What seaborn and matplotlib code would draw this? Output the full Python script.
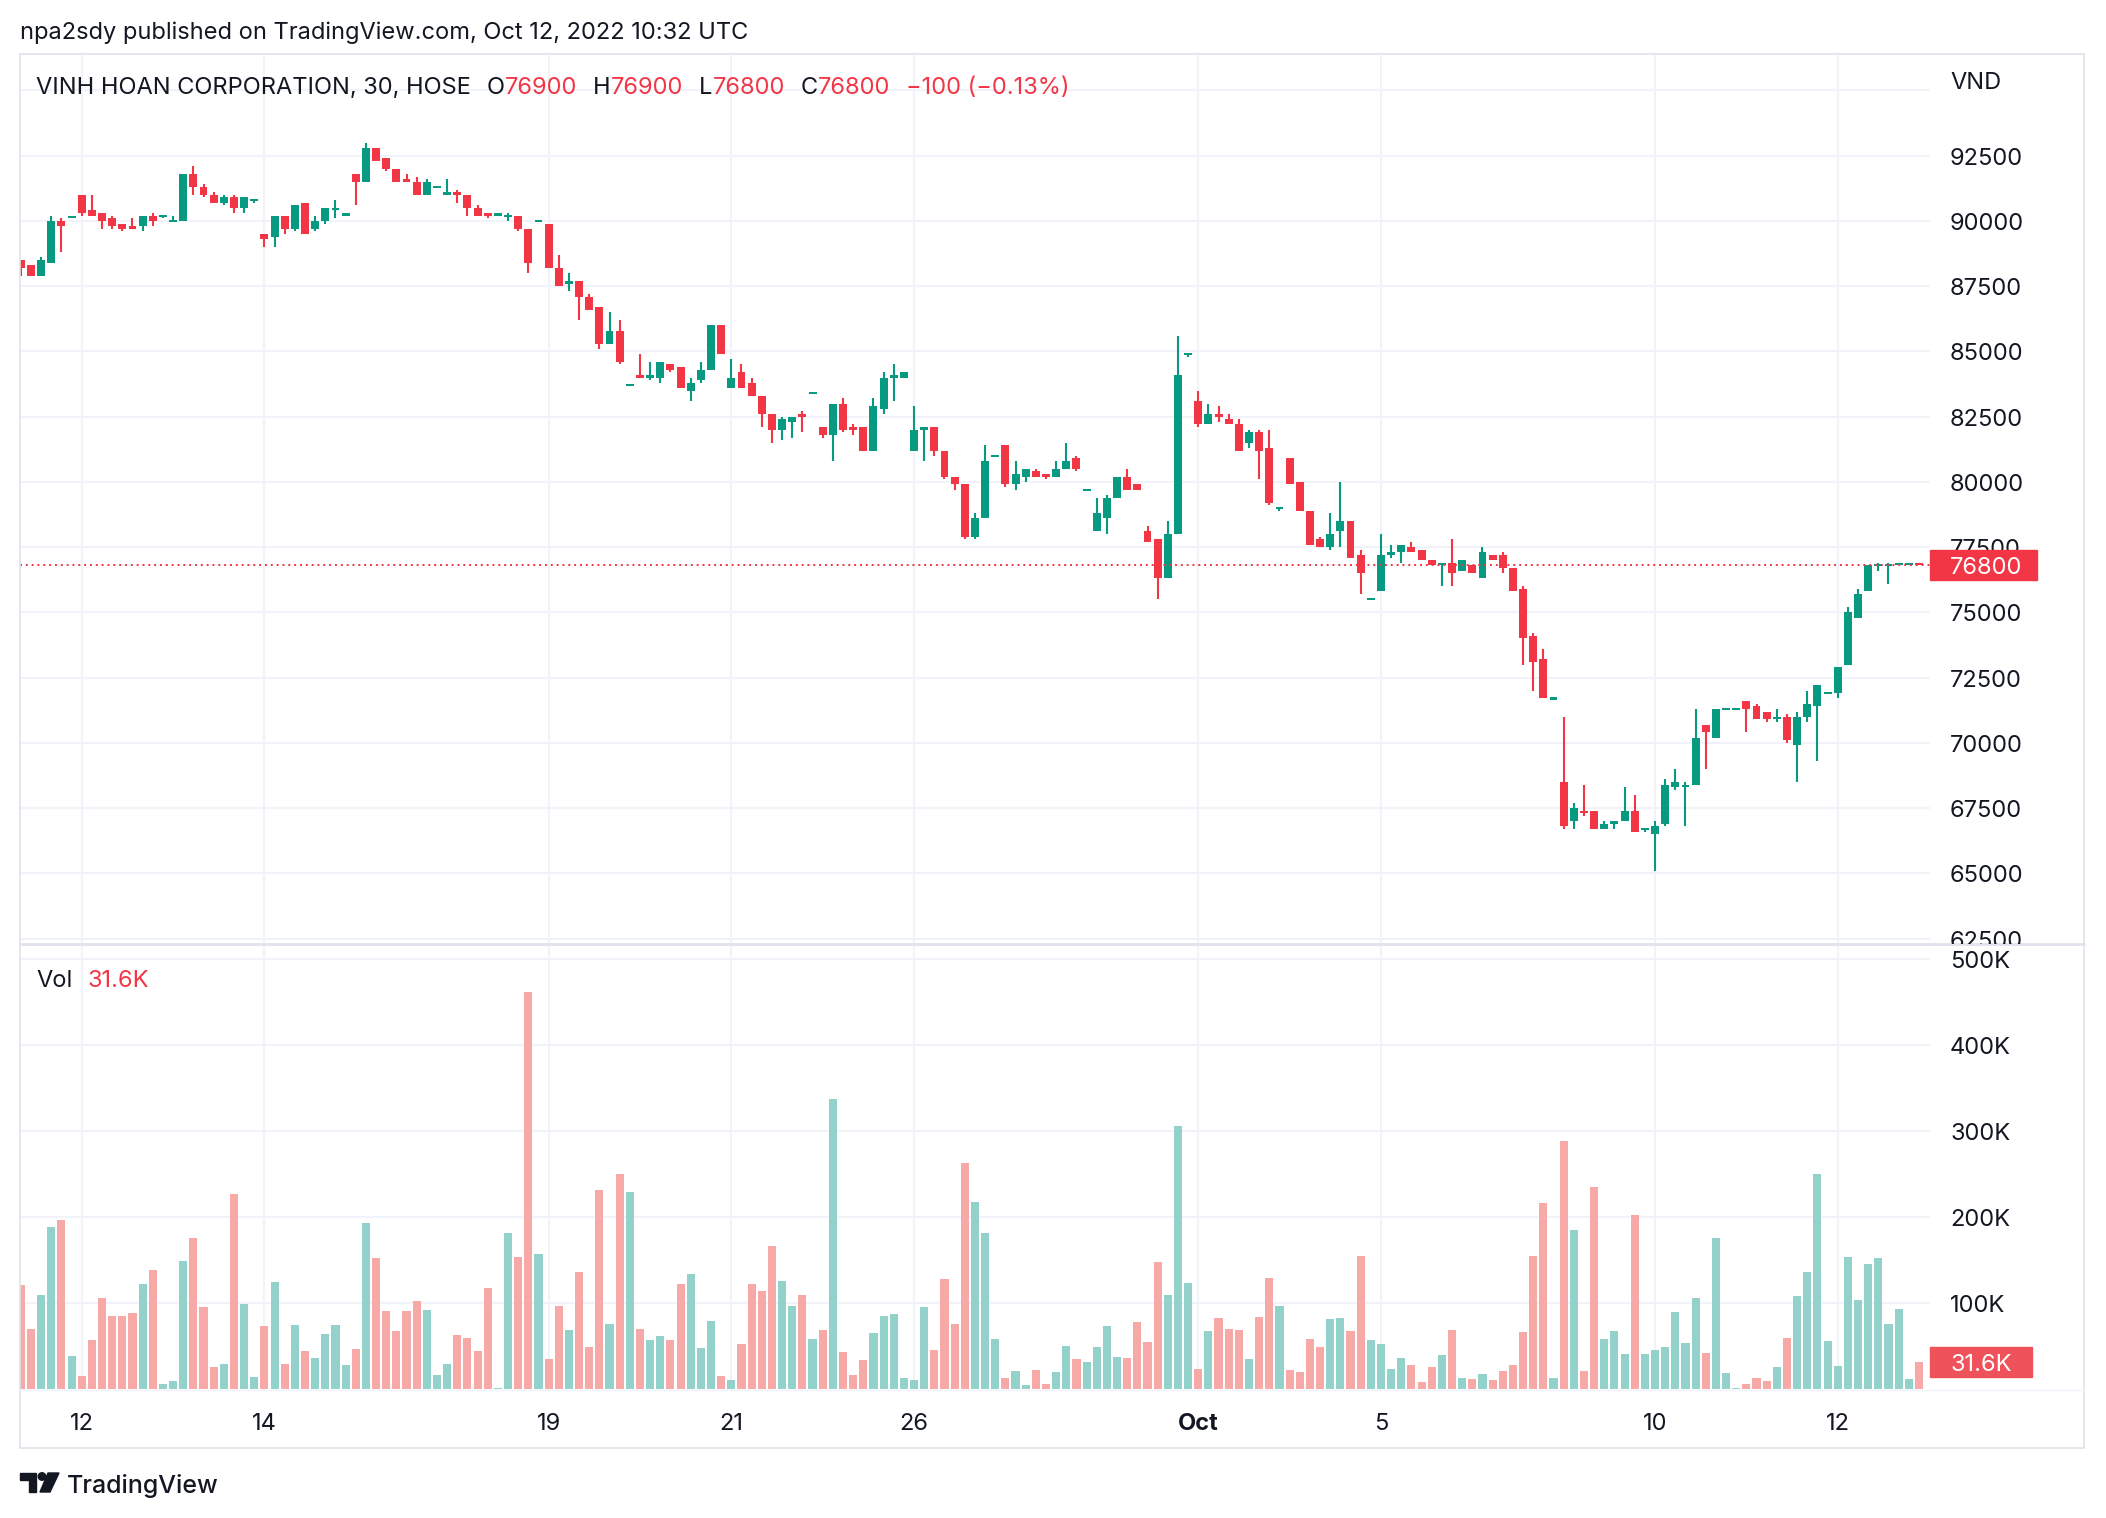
# VINH HOAN CORPORATION, 30 min candles + volume, TradingView style

import numpy as np
import pandas as pd
import seaborn as sns
import matplotlib.pyplot as plt
from matplotlib.patches import Rectangle, Ellipse, Polygon
from matplotlib.lines import Line2D
from matplotlib.transforms import Bbox, blended_transform_factory

# ---- data (VND) ----
opens = [
    88500, 88300, 87900, 88400, 90000, 90100, 91000, 90400, 90300, 90100,
    89900, 89800, 89800, 90200, 90200, 90000, 90000, 91800, 91300, 91000,
    90700, 90900, 90500, 90800, 89500, 89400, 90200, 89700, 90700, 89700,
    90000, 90400, 90200, 91800, 91500, 92800, 92400, 92000, 91600, 91500,
    91000, 91300, 91000, 91100, 91000, 90500, 90300, 90200, 90200, 90200,
    89700, 90000, 89900, 88200, 87600, 87700, 87100, 86700, 85300, 85800,
    83700, 84100, 84000, 84000, 84500, 84400, 83500, 83900, 84300, 86000,
    83600, 84200, 83800, 83300, 82600, 82000, 82300, 82600, 83400, 82100,
    81800, 83000, 82100, 82100, 81200, 82800, 84000, 84000, 81200, 82000,
    82100, 81200, 80200, 79900, 77900, 78600, 81000, 81400, 79900, 80200,
    80400, 80300, 80200, 80500, 80900, 79700, 78100, 78600, 79400, 80200,
    79900, 78100, 77800, 76300, 78000, 84900, 83100, 82200, 82600, 82400,
    82200, 81500, 81900, 81300, 79000, 80900, 80000, 78900, 77800, 77500,
    78100, 78500, 77200, 75500, 75800, 77200, 77300, 77500, 77400, 77000,
    76800, 76900, 76600, 76800, 76300, 77200, 77200, 76700, 75900, 74100,
    73200, 71700, 68500, 67000, 67400, 67400, 66700, 66900, 67000, 67400,
    66700, 66500, 66900, 68300, 68300, 68400, 70700, 70200, 71300, 71300,
    71600, 71400, 71200, 70900, 71000, 69900, 71000, 71400, 71900, 71900,
    73000, 74800, 75800, 76800, 76800, 76800, 76800, 76900,
]
highs = [
    88500, 88300, 88600, 90200, 90100, 90200, 91000, 91000, 90300, 90200,
    89900, 90100, 90200, 90300, 90200, 90200, 91800, 92100, 91400, 91100,
    91000, 91000, 90900, 90800, 89500, 90200, 90200, 90600, 90700, 90200,
    90500, 90800, 90300, 91800, 93000, 92800, 92400, 92000, 91800, 91700,
    91600, 91300, 91600, 91200, 91000, 90600, 90300, 90300, 90300, 90200,
    89700, 90000, 89900, 88700, 88000, 87700, 87200, 86700, 86500, 86200,
    83700, 84900, 84600, 84600, 84500, 84400, 84000, 84600, 86000, 86000,
    84700, 84500, 84000, 83300, 82600, 82500, 82500, 82700, 83400, 82100,
    83000, 83200, 82200, 82100, 83200, 84200, 84500, 84200, 82900, 82100,
    82100, 81200, 80200, 79900, 78800, 81400, 81000, 81400, 80800, 80500,
    80500, 80300, 80800, 81500, 81000, 79700, 79400, 79500, 80200, 80500,
    79900, 78300, 77800, 78500, 85600, 84900, 83500, 83000, 82900, 82600,
    82400, 82000, 82000, 82000, 79000, 80900, 80000, 78900, 77900, 78800,
    80000, 78500, 77400, 75500, 78000, 77600, 77600, 77700, 77400, 77000,
    76900, 77800, 77000, 76800, 77500, 77200, 77300, 76700, 76000, 74200,
    73600, 71700, 71000, 67700, 68400, 67400, 67000, 67000, 68300, 68000,
    66700, 67000, 68600, 69000, 68500, 71300, 70700, 71300, 71300, 71300,
    71600, 71500, 71200, 71300, 71100, 71200, 72000, 72200, 71900, 72900,
    75200, 75900, 76800, 76900, 76900, 76900, 76900, 76900,
]
lows = [
    87900, 87900, 87900, 88400, 88800, 90100, 90200, 90200, 89700, 89700,
    89600, 89700, 89600, 89800, 90100, 90000, 90000, 91000, 90900, 90700,
    90600, 90300, 90300, 90700, 89000, 89000, 89500, 89600, 89500, 89600,
    89900, 90100, 90200, 90600, 91500, 92300, 91900, 91500, 91500, 91000,
    91000, 91300, 91000, 90700, 90200, 90200, 90100, 90200, 90000, 89600,
    88000, 90000, 88200, 87500, 87300, 86200, 86600, 85100, 85300, 84500,
    83700, 84000, 83900, 83800, 84200, 83600, 83100, 83800, 84300, 84900,
    83600, 83600, 83300, 82100, 81500, 81600, 81700, 81900, 83400, 81700,
    80800, 81900, 81800, 81200, 81200, 82600, 83100, 84000, 81200, 80800,
    81000, 80100, 79700, 77800, 77800, 78600, 81000, 79800, 79700, 80000,
    80200, 80100, 80200, 80500, 80400, 79700, 78100, 78000, 79400, 79700,
    79700, 77700, 75500, 76300, 78000, 84800, 82100, 82200, 82300, 82200,
    81200, 81300, 80100, 79100, 78900, 79900, 78900, 77600, 77500, 77400,
    77500, 77100, 75700, 75500, 75800, 77100, 76900, 77300, 77000, 76800,
    76000, 76000, 76600, 76500, 76300, 77000, 76500, 75800, 73000, 72000,
    71700, 71700, 66700, 66700, 67200, 66700, 66700, 66700, 67000, 66600,
    66600, 65100, 66800, 68200, 66800, 68400, 69000, 70200, 71300, 71300,
    70400, 70900, 70800, 70800, 70000, 68500, 70800, 69300, 71900, 71700,
    73000, 74800, 75800, 76600, 76100, 76800, 76800, 76800,
]
closes = [
    88200, 87900, 88500, 90000, 89800, 90200, 90300, 90200, 90000, 89800,
    89700, 89700, 90200, 90000, 90200, 90000, 91800, 91300, 91000, 90700,
    90900, 90500, 90900, 90800, 89300, 90200, 89700, 90600, 89500, 90000,
    90500, 90500, 90300, 91500, 92800, 92300, 92000, 91500, 91500, 91000,
    91500, 91300, 91100, 91000, 90500, 90200, 90200, 90300, 90200, 89700,
    88400, 90000, 88200, 87500, 87700, 87100, 86600, 85300, 85800, 84600,
    83700, 84000, 84100, 84600, 84300, 83600, 83800, 84300, 86000, 84900,
    84000, 83600, 83300, 82600, 82000, 82400, 82500, 82500, 83400, 81800,
    83000, 82000, 82000, 81200, 82900, 84000, 84100, 84200, 82000, 82100,
    81200, 80200, 79900, 77900, 78600, 80800, 81000, 79900, 80300, 80500,
    80200, 80200, 80500, 80800, 80500, 79700, 78800, 79400, 80200, 79700,
    79700, 77700, 76300, 78000, 84100, 84900, 82200, 82600, 82500, 82200,
    81200, 81900, 81200, 79200, 79000, 79900, 78900, 77600, 77500, 78000,
    78500, 77100, 76500, 75500, 77200, 77300, 77600, 77300, 77000, 76800,
    76900, 76500, 77000, 76500, 77300, 77000, 76700, 75800, 74000, 73100,
    71700, 71700, 66800, 67500, 67300, 66700, 66900, 67000, 67400, 66600,
    66700, 66800, 68400, 68500, 68400, 70200, 70400, 71300, 71300, 71300,
    71300, 70900, 70900, 71000, 70100, 71000, 71500, 72200, 71900, 72900,
    75000, 75700, 76800, 76800, 76800, 76900, 76900, 76800,
]
# volume in thousands of shares
volume_k = [
    120, 69, 109, 188, 196, 38, 15, 57, 105, 84,
    84, 88, 122, 138, 5, 9, 148, 175, 95, 25,
    29, 226, 98, 14, 73, 124, 29, 74, 44, 36,
    64, 74, 28, 46, 193, 152, 90, 67, 90, 102,
    91, 16, 29, 62, 59, 44, 117, 1, 181, 153,
    461, 157, 34, 96, 68, 136, 48, 231, 75, 250,
    229, 69, 57, 61, 57, 122, 133, 47, 79, 15,
    10, 52, 122, 114, 166, 125, 96, 109, 58, 68,
    337, 43, 16, 33, 65, 84, 87, 12, 10, 95,
    45, 128, 75, 262, 217, 181, 58, 12, 21, 4,
    22, 5, 19, 50, 34, 31, 48, 73, 37, 36,
    78, 54, 147, 109, 305, 123, 23, 67, 82, 69,
    68, 34, 83, 129, 96, 22, 19, 58, 48, 81,
    82, 67, 154, 57, 52, 23, 36, 28, 8, 25,
    39, 68, 12, 11, 17, 10, 21, 28, 66, 154,
    216, 12, 288, 184, 21, 234, 58, 67, 40, 202,
    40, 45, 48, 89, 53, 105, 41, 175, 18, 1,
    5, 12, 9, 25, 59, 108, 136, 250, 55, 26,
    153, 103, 145, 152, 75, 93, 11, 31.6,
]

date_ticks = [6, 24, 52, 70, 88, 116, 134, 161, 179]
date_labels = ["12", "14", "19", "21", "26", "Oct", "5", "10", "12"]
price_ticks = [62500, 65000, 67500, 70000, 72500, 75000, 77500,
               80000, 82500, 85000, 87500, 90000, 92500]
vol_ticks = [100, 200, 300, 400, 500]
vol_tick_labels = ["100K", "200K", "300K", "400K", "500K"]
last_price = 76800
last_vol = 31.6

df = pd.DataFrame({"open": opens, "high": highs, "low": lows,
                   "close": closes, "vol": volume_k})
df["idx"] = np.arange(len(df))
df["dir"] = np.where(df["close"] >= df["open"], "up", "down")

# ---- style ----
TEAL = "#089981"
RED = "#F23645"
VOL_TEAL = "#92D2CA"
VOL_RED = "#F7A9A7"
GRID = "#F0F3FA"
BORDER = "#E0E3EB"
TXT = "#131722"
FS = 17

sns.set_theme(style="white")
plt.rcParams["font.family"] = ["Inter", "DejaVu Sans"]

W, H = 2106, 1518
fig = plt.figure(figsize=(W / 100, H / 100), dpi=100)
fig.patch.set_facecolor("white")

def fy(py):
    return 1 - py / H

LEFT, RIGHT = 20, 1930
P_TOP, P_BOT, V_BOT = 54, 944, 1390
DY = 3  # text sits a touch lower than the bbox centre

ax_p = fig.add_axes([LEFT / W, fy(P_BOT), (RIGHT - LEFT) / W, (P_BOT - P_TOP) / H])
ax_v = fig.add_axes([LEFT / W, fy(V_BOT), (RIGHT - LEFT) / W, (V_BOT - P_BOT) / H])

# ---- candles ----
colors = np.where(df["dir"] == "up", TEAL, RED)
ax_p.vlines(df["idx"], df["low"], df["high"], colors=colors, linewidth=1.5, zorder=2)
body = (df["close"] - df["open"]).abs()
body_low = np.minimum(df["open"], df["close"])
flat = body < 80
body_low = np.where(flat, (df["open"] + df["close"]) / 2 - 40, body_low)
body = np.where(flat, 80, body)
ax_p.bar(df["idx"], body, bottom=body_low, width=0.78, color=colors,
         linewidth=0, zorder=3)
ax_p.axhline(last_price, color=RED, lw=1.4, ls=(0, (1, 2)), zorder=4)

ax_p.set_xlim(-0.08, 188.09)
ax_p.set_ylim(62291, 96397)
ax_p.set_yticks(price_ticks + [95000])
ax_p.set_xticks(date_ticks)

# ---- volume ----
sns.barplot(data=df, x="idx", y="vol", hue="dir",
            palette={"up": VOL_TEAL, "down": VOL_RED},
            dodge=False, width=0.8, saturation=1, errorbar=None,
            linewidth=0, legend=False, ax=ax_v)
ax_v.set_xlim(-0.08, 188.09)
ax_v.set_ylim(-1.5, 517)
ax_v.set_yticks(vol_ticks)
ax_v.set_xticks(date_ticks)
ax_v.set_xlabel("")
ax_v.set_ylabel("")

for ax in (ax_p, ax_v):
    ax.set_facecolor("white")
    ax.grid(True, color=GRID, lw=1.5)
    ax.set_axisbelow(True)
    ax.tick_params(labelleft=False, labelbottom=False, length=0)
    for s in ax.spines.values():
        s.set_visible(False)

# ---- right price scale ----
def px_of_price(p):
    return 155.7 + (92500 - p) / 1000 * 26.095

def px_of_vol(v):
    return 1388.7 - v * 0.86

clip = Bbox.from_extents(RIGHT, H - P_BOT, W, H - P_TOP)
for p in price_ticks:
    t = fig.text(1950 / W, fy(px_of_price(p) + DY), str(p), va="center",
                 ha="left", fontsize=FS, color=TXT)
    t.set_clip_box(clip)
    t.set_clip_on(True)
fig.text(1950 / W, fy(80 + DY), "VND", va="center", ha="left", fontsize=FS, color=TXT)

for v, lab in zip(vol_ticks, vol_tick_labels):
    fig.text(1950 / W, fy(px_of_vol(v) + DY), lab, va="center", ha="left",
             fontsize=FS, color=TXT)

# last value boxes
yp = px_of_price(last_price)
fig.add_artist(Rectangle((1930 / W, fy(yp + 15)), 107 / W, 30 / H,
                         transform=fig.transFigure, color=RED, zorder=5))
fig.text(1950 / W, fy(yp + DY), str(last_price), va="center", ha="left",
         fontsize=FS, color="white", zorder=6)
yv = px_of_vol(last_vol)
fig.add_artist(Rectangle((1930 / W, fy(yv + 15)), 102 / W, 30 / H,
                         transform=fig.transFigure, color="#F0525C", zorder=5))
fig.text(1950 / W, fy(yv + DY), "31.6K", va="center", ha="left",
         fontsize=FS, color="white", zorder=6)

# ---- time axis ----
ttrans = blended_transform_factory(ax_v.transData, fig.transFigure)
for x, lab in zip(date_ticks, date_labels):
    fig.text(x, fy(1421 + DY), lab, transform=ttrans, ha="center", va="center",
             fontsize=FS, color=TXT, fontweight="bold" if lab == "Oct" else "normal")

# ---- frame and separators ----
fig.add_artist(Rectangle((LEFT / W, fy(1448)), (2084 - LEFT) / W, (1448 - P_TOP) / H,
                         transform=fig.transFigure, fill=False,
                         edgecolor=BORDER, lw=1.2))
fig.add_artist(Line2D([LEFT / W, 2084 / W], [fy(P_BOT), fy(P_BOT)],
                      transform=fig.transFigure, color=BORDER, lw=2))
fig.add_artist(Line2D([LEFT / W, 2084 / W], [fy(V_BOT), fy(V_BOT)],
                      transform=fig.transFigure, color=GRID, lw=1))

# ---- header texts ----
fig.text(20 / W, fy(30 + DY), "npa2sdy published on TradingView.com, Oct 12, 2022 10:32 UTC",
         va="center", ha="left", fontsize=FS, color=TXT)

title = fig.text(36 / W, fy(85 + DY), "VINH HOAN CORPORATION, 30, HOSE",
                 va="center", ha="left", fontsize=FS, color=TXT)
pieces = [("O", TXT, 11), ("76900", RED, 0.5), ("H", TXT, 11), ("76900", RED, 0.5),
          ("L", TXT, 11), ("76800", RED, 0.5), ("C", TXT, 11), ("76800", RED, 0.5),
          ("\u2212100 (\u22120.13%)", RED, 11)]
anchor = title
for s, c, gap in pieces:
    anchor = fig.add_artist(plt.Annotation(s, xy=(1, 0), xycoords=anchor,
                                           xytext=(gap, 0), textcoords="offset points",
                                           va="bottom", ha="left", fontsize=FS, color=c))

vol_lab = fig.text(36 / W, fy(978 + DY), "Vol", va="center", ha="left",
                   fontsize=FS, color=TXT)
fig.add_artist(plt.Annotation("31.6K", xy=(1, 0), xycoords=vol_lab, xytext=(11, 0),
                              textcoords="offset points", va="bottom", ha="left",
                              fontsize=FS, color=RED))

# ---- footer logo ----
fig.add_artist(Polygon([(20 / W, fy(1473)), (36 / W, fy(1473)), (36 / W, fy(1492)),
                        (29 / W, fy(1492)), (29 / W, fy(1480)), (20 / W, fy(1480))],
                       closed=True, transform=fig.transFigure, color=TXT))
fig.add_artist(Ellipse((42 / W, fy(1476.5)), 7.5 / W, 7.5 / H,
                       transform=fig.transFigure, color=TXT))
fig.add_artist(Polygon([(48 / W, fy(1473)), (59 / W, fy(1473)), (50 / W, fy(1492)),
                        (40 / W, fy(1492))],
                       closed=True, transform=fig.transFigure, color=TXT))
fig.text(67 / W, fy(1483 + DY), "TradingView", va="center", ha="left",
         fontsize=18, color=TXT, fontweight="medium")

fig.savefig("out.png", dpi=100)
